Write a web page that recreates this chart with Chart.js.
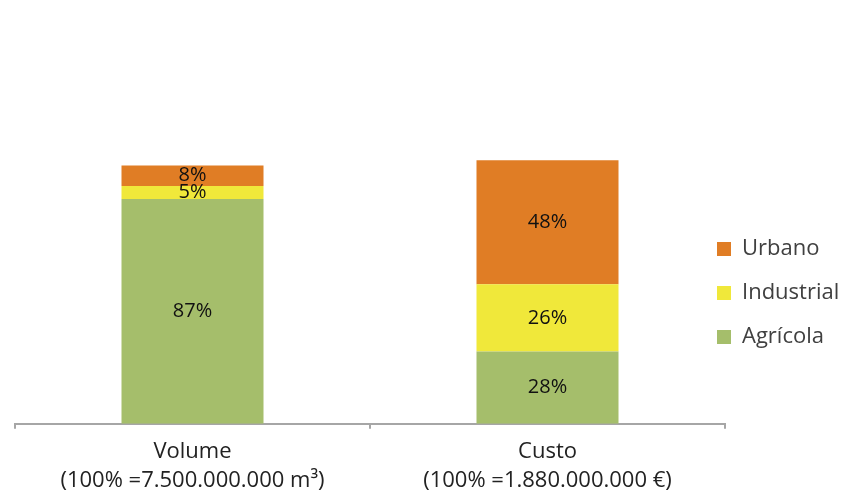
<!DOCTYPE html>
<html>
<head>
<meta charset="utf-8">
<script src="https://cdn.jsdelivr.net/npm/chart.js@4/dist/chart.umd.min.js"></script>
<style>
  html, body { margin: 0; padding: 0; background: #ffffff; }
  #wrap { position: relative; width: 844px; height: 493px; }
</style>
</head>
<body>
<div id="wrap"><canvas id="chart"></canvas></div>
<script>
// Categories (two-line axis labels)
const categories = [
  ['Volume', '(100% =7.500.000.000 m³)'],
  ['Custo', '(100% =1.880.000.000 €)']
];

// Share of each sector, in percent
const agricola   = [87, 28];
const industrial = [5, 26];
const urbano     = [8, 48];

const seriesNames = ['Agrícola', 'Industrial', 'Urbano'];

const FONT = '"Open Sans", "DejaVu Sans", sans-serif';

// Percent labels centred inside each stacked segment
const segmentLabels = {
  id: 'segmentLabels',
  afterDatasetsDraw(chart) {
    const ctx = chart.ctx;
    ctx.save();
    ctx.font = '20px ' + FONT;
    ctx.fillStyle = '#111111';
    ctx.textAlign = 'center';
    ctx.textBaseline = 'middle';
    chart.data.datasets.forEach((ds, di) => {
      const meta = chart.getDatasetMeta(di);
      meta.data.forEach((bar, i) => {
        const v = ds.data[i];
        const y = (bar.y + bar.base) / 2;
        ctx.fillText(v + '%', bar.x, y);
      });
    });
    ctx.restore();
  }
};

// Move the legend column a little to the left and lower down
const legendPlacement = {
  id: 'legendPlacement',
  afterLayout(chart) {
    const lg = chart.legend;
    if (!lg) return;
    const dx = -30, dy = 41;
    lg.left += dx;
    lg.width = lg.right - lg.left;
    lg.top += dy; lg.bottom += dy;
  }
};

new Chart(document.getElementById('chart'), {
  type: 'bar',
  data: {
    labels: categories,
    datasets: [
      { label: seriesNames[0], data: agricola,   backgroundColor: '#a5be6b' },
      { label: seriesNames[1], data: industrial, backgroundColor: '#f0e83a' },
      { label: seriesNames[2], data: urbano,     backgroundColor: '#e07d25' }
    ]
  },
  options: {
    responsive: true,
    maintainAspectRatio: false,
    animation: false,
    categoryPercentage: 0.8,
    barPercentage: 0.5,
    layout: { padding: { left: 15, right: 0, top: 0, bottom: -11 } },
    plugins: {
      tooltip: { enabled: false },
      legend: {
        position: 'right',
        reverse: true,
        maxWidth: 119,
        labels: {
          boxWidth: 14,
          boxHeight: 14,
          padding: 22,
          color: '#404040',
          font: { family: FONT, size: 22 }
        }
      }
    },
    scales: {
      x: {
        stacked: true,
        grid: {
          display: true,
          drawOnChartArea: false,
          drawTicks: true,
          tickLength: 5,
          color: '#a6a6a6',
          lineWidth: 2
        },
        border: { display: true, color: '#a6a6a6', width: 2 },
        ticks: {
          color: '#222222',
          padding: 9,
          maxRotation: 0,
          font: { family: FONT, size: 22, lineHeight: 1.3 }
        }
      },
      y: {
        stacked: true,
        display: false,
        min: 0,
        max: 164
      }
    }
  },
  plugins: [segmentLabels, legendPlacement]
});
</script>
</body>
</html>
